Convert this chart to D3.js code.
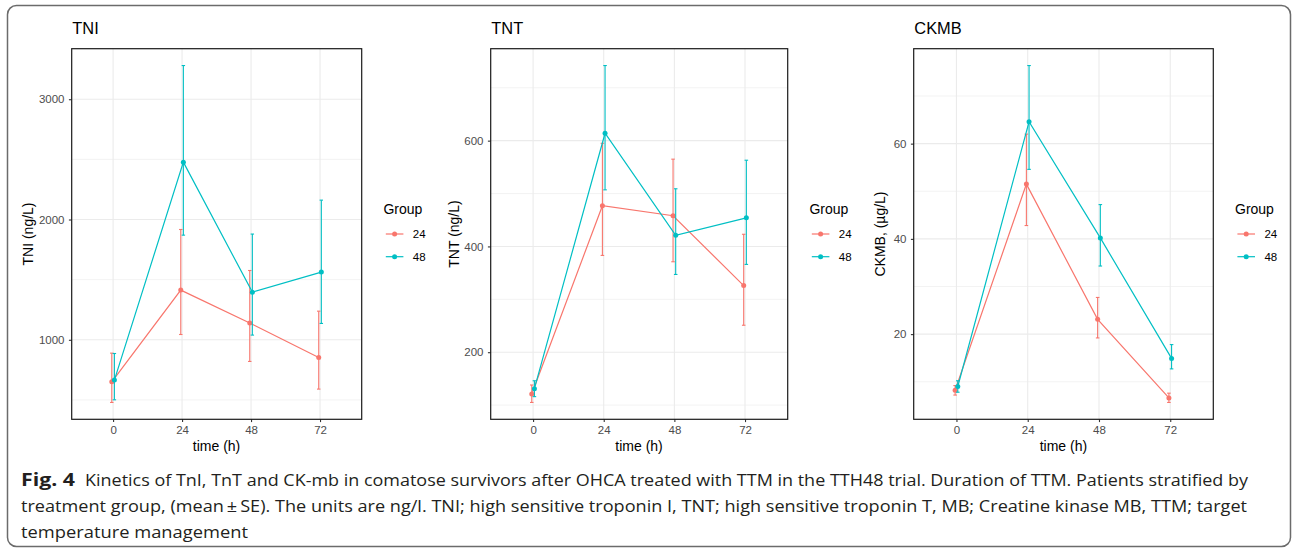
<!DOCTYPE html>
<html>
<head>
<meta charset="utf-8">
<script src="https://cdn.jsdelivr.net/npm/d3@7"></script>
<style>
  html, body { margin: 0; padding: 0; background: #fff; }
  svg { display: block; }
  text { font-family: "Liberation Sans", Arial, sans-serif; }
  .cap { font-family: "Open Sans", "Noto Sans", sans-serif; fill: #231f20; }
</style>
</head>
<body>
<svg id="chart" width="1292" height="550"></svg>
<script>
// ---------------- DATA ----------------
const times = [0, 24, 48, 72];
const groups = ["24", "48"];
const groupColors = ["#F8766D", "#00BFC4"];

const tniMean24 = [651, 1413, 1139, 853];
const tniLo24   = [479, 1044, 820, 590];
const tniHi24   = [889, 1917, 1576, 1238];
const tniMean48 = [665, 2477, 1396, 1563];
const tniLo48   = [501, 1870, 1039, 1136];
const tniHi48   = [886, 3280, 1879, 2161];

const tntMean24 = [121, 477, 458, 326];
const tntLo24   = [105, 383, 371, 251];
const tntHi24   = [138, 595, 565, 423];
const tntMean48 = [131, 614, 421, 454];
const tntLo48   = [116, 507, 347, 366];
const tntHi48   = [146, 742, 509, 563];

const ckmbMean24 = [8.2, 51.5, 23.1, 6.6];
const ckmbLo24   = [7.2, 42.8, 19.2, 5.65];
const ckmbHi24   = [9.2, 62.0, 27.7, 7.6];
const ckmbMean48 = [9.0, 64.6, 40.2, 14.9];
const ckmbLo48   = [7.8, 54.6, 34.3, 12.7];
const ckmbHi48   = [10.2, 76.4, 47.2, 17.8];

const tniTicks = [1000, 2000, 3000],  tniMinor = [500, 1500, 2500];
const tntTicks = [200, 400, 600],     tntMinor = [100, 300, 500, 700];
const ckmbTicks = [20, 40, 60],       ckmbMinor = [10, 30, 50, 70];

const titles = ["TNI", "TNT", "CKMB"];
const yTitles = ["TNI (ng/L)", "TNT (ng/L)", "CKMB, (\u00b5g/L)"];
const xTitle = "time (h)";
const legendTitle = "Group";

const captionBold = "Fig. 4";
const captionLines = [
  "Kinetics of TnI, TnT and CK-mb in comatose survivors after OHCA treated with TTM in the TTH48 trial. Duration of TTM. Patients stratified by",
  "treatment group, (mean\u2009\u00b1\u2009SE). The units are ng/l. TNI; high sensitive troponin I, TNT; high sensitive troponin T, MB; Creatine kinase MB, TTM; target",
  "temperature management"
];

// ---------------- LAYOUT ----------------
const svg = d3.select("#chart");
svg.append("rect").attr("x", 7.5).attr("y", 5.5).attr("width", 1283).attr("height", 541)
  .attr("rx", 9).attr("fill", "#fff").attr("stroke", "#6b6b6b").attr("stroke-width", 1.5);

const panels = [
  {left: 71.7, right: 361.7, mean: [tniMean24, tniMean48], lo: [tniLo24, tniLo48], hi: [tniHi24, tniHi48], ticks: tniTicks, minor: tniMinor, ytx: 32.5},
  {left: 490.7, right: 787.7, mean: [tntMean24, tntMean48], lo: [tntLo24, tntLo48], hi: [tntHi24, tntHi48], ticks: tntTicks, minor: tntMinor, ytx: 459.3},
  {left: 913.7, right: 1213.3, mean: [ckmbMean24, ckmbMean48], lo: [ckmbLo24, ckmbLo48], hi: [ckmbHi24, ckmbHi48], ticks: ckmbTicks, minor: ckmbMinor, ytx: 885}
];
const panelTop = 48.7, panelBottom = 419.3;
const dodge = [-0.45, 0.45];

panels.forEach((p, i) => {
  const g = svg.append("g");
  const allLo = d3.min(p.lo.flat()), allHi = d3.max(p.hi.flat());
  const pad = (allHi - allLo) * 0.05;
  const x = d3.scaleLinear().domain([-14.4, 86.5]).range([p.left, p.right]);
  const y = d3.scaleLinear().domain([allLo - pad, allHi + pad]).range([panelBottom, panelTop]);

  // grid
  g.selectAll(".minor").data(p.minor).join("line")
    .attr("x1", p.left).attr("x2", p.right).attr("y1", d => y(d)).attr("y2", d => y(d))
    .attr("stroke", "#ebebeb").attr("stroke-width", 0.6);
  g.selectAll(".majy").data(p.ticks).join("line")
    .attr("x1", p.left).attr("x2", p.right).attr("y1", d => y(d)).attr("y2", d => y(d))
    .attr("stroke", "#ebebeb").attr("stroke-width", 1.1);
  g.selectAll(".majx").data(times).join("line")
    .attr("x1", d => x(d)).attr("x2", d => x(d)).attr("y1", panelTop).attr("y2", panelBottom)
    .attr("stroke", "#ebebeb").attr("stroke-width", 1.1);

  // axes
  const ya = g.append("g").attr("transform", `translate(${p.left},0)`)
    .call(d3.axisLeft(y).tickValues(p.ticks).tickFormat(d3.format("d")).tickSize(2.8).tickPadding(4.4));
  const xa = g.append("g").attr("transform", `translate(0,${panelBottom})`)
    .call(d3.axisBottom(x).tickValues(times).tickFormat(d3.format("d")).tickSize(2.8).tickPadding(3.5));
  [ya, xa].forEach(a => {
    a.select(".domain").remove();
    a.selectAll(".tick line").attr("stroke", "#333").attr("stroke-width", 1.1);
    a.selectAll(".tick text").attr("fill", "#4d4d4d").style("font-size", "11.5px")
      .style("font-family", '"Liberation Sans", Arial, sans-serif');
  });

  // series
  groups.forEach((grp, k) => {
    const col = groupColors[k];
    const pts = times.map((t, j) => ({t, m: p.mean[k][j], lo: p.lo[k][j], hi: p.hi[k][j]}));
    const line = d3.line().x(d => x(d.t + dodge[k])).y(d => y(d.m));
    g.append("path").datum(pts).attr("d", line).attr("fill", "none")
      .attr("stroke", col).attr("stroke-width", 1.2);
    g.selectAll(null).data(pts).join("circle")
      .attr("cx", d => x(d.t + dodge[k])).attr("cy", d => y(d.m)).attr("r", 2.5).attr("fill", col);
    const eb = g.selectAll(null).data(pts).join("g");
    eb.append("line").attr("x1", d => x(d.t + dodge[k])).attr("x2", d => x(d.t + dodge[k]))
      .attr("y1", d => y(d.lo)).attr("y2", d => y(d.hi)).attr("stroke", col).attr("stroke-width", 1.1);
    ["lo", "hi"].forEach(key => {
      eb.append("line").attr("x1", d => x(d.t + dodge[k] - 0.6)).attr("x2", d => x(d.t + dodge[k] + 0.6))
        .attr("y1", d => y(d[key])).attr("y2", d => y(d[key])).attr("stroke", col).attr("stroke-width", 1.1);
    });
  });

  // panel border
  g.append("rect").attr("x", p.left).attr("y", panelTop).attr("width", p.right - p.left).attr("height", panelBottom - panelTop)
    .attr("fill", "none").attr("stroke", "#1a1a1a").attr("stroke-width", 1.2);

  // titles
  g.append("text").attr("x", p.left + 0.6).attr("y", 34.3).text(titles[i])
    .style("font-size", "16.4px").attr("fill", "#000");
  g.append("text").attr("x", (x(0) + x(72)) / 2).attr("y", 450.5).attr("text-anchor", "middle")
    .text(xTitle).style("font-size", "14px").attr("fill", "#000");
  g.append("text").attr("transform", `translate(${p.ytx},${(panelTop + panelBottom) / 2}) rotate(-90)`)
    .attr("text-anchor", "middle").text(yTitles[i]).style("font-size", "14px").attr("fill", "#000");

  // legend
  const lx = p.right + 21.7;
  g.append("text").attr("x", lx).attr("y", 214).text(legendTitle).style("font-size", "14px").attr("fill", "#000");
  groups.forEach((grp, k) => {
    const cy = 234 + k * 22.7;
    g.append("line").attr("x1", lx + 2.4).attr("x2", lx + 20).attr("y1", cy).attr("y2", cy)
      .attr("stroke", groupColors[k]).attr("stroke-width", 1.2);
    g.append("circle").attr("cx", lx + 11.2).attr("cy", cy).attr("r", 2.5).attr("fill", groupColors[k]);
    g.append("text").attr("x", lx + 29.4).attr("y", cy + 4.2).text(grp)
      .style("font-size", "11.5px").attr("fill", "#000");
  });
});

// caption
const cap = svg.append("g");
cap.append("text").attr("class", "cap").attr("x", 21).attr("y", 485.5)
  .style("font-size", "17px").style("font-weight", "bold")
  .attr("textLength", 54).attr("lengthAdjust", "spacingAndGlyphs").text(captionBold);
cap.append("text").attr("class", "cap").attr("x", 85).attr("y", 485.5)
  .style("font-size", "17px").attr("textLength", 1163).attr("lengthAdjust", "spacingAndGlyphs").text(captionLines[0]);
cap.append("text").attr("class", "cap").attr("x", 21).attr("y", 511.8)
  .style("font-size", "17px").attr("textLength", 1226).attr("lengthAdjust", "spacingAndGlyphs").text(captionLines[1]);
cap.append("text").attr("class", "cap").attr("x", 21).attr("y", 537.5)
  .style("font-size", "17px").attr("textLength", 227).attr("lengthAdjust", "spacingAndGlyphs").text(captionLines[2]);
</script>
</body>
</html>
